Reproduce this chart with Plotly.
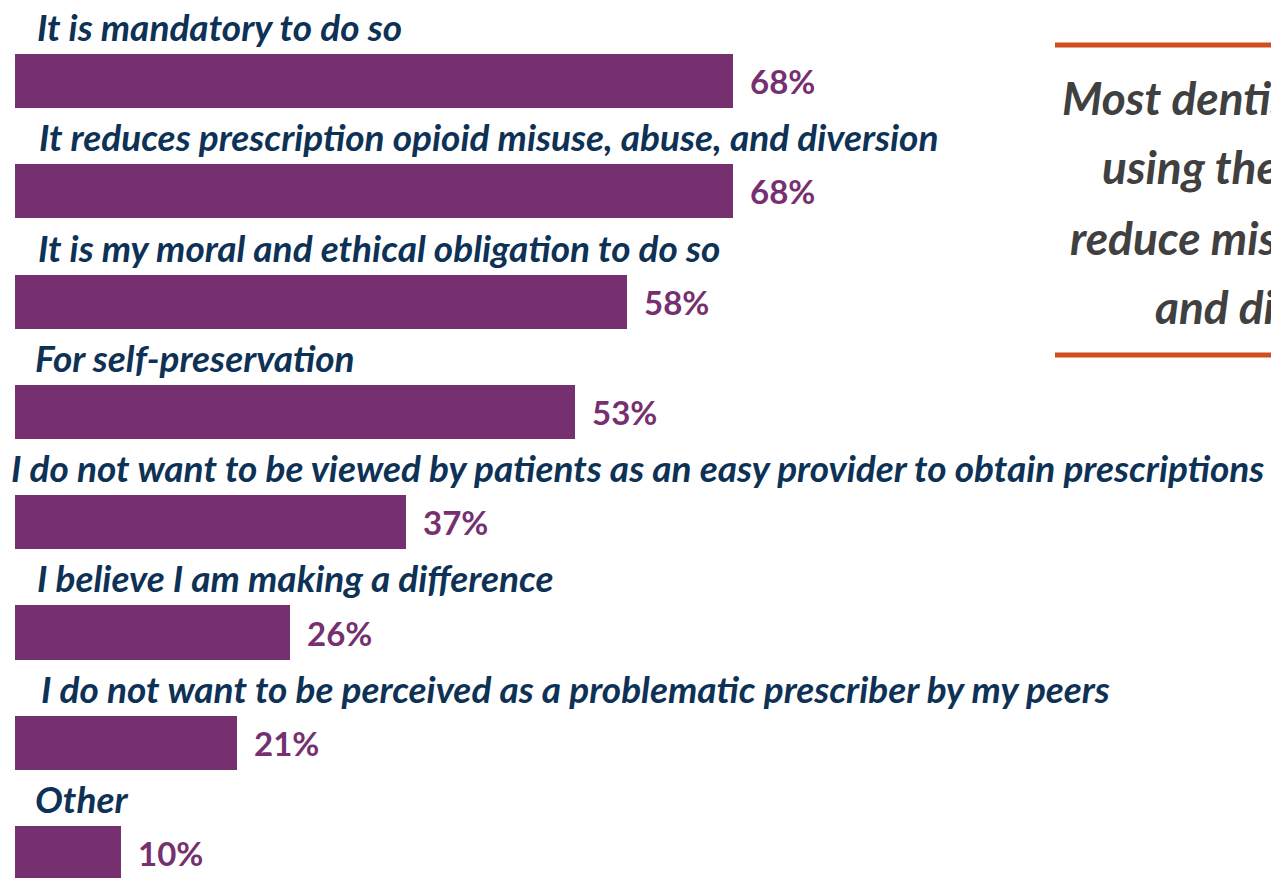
import plotly.graph_objects as go

categories = [
    "It is mandatory to do so",
    "It reduces prescription opioid misuse, abuse, and diversion",
    "It is my moral and ethical obligation to do so",
    "For self-preservation",
    "I do not want to be viewed by patients as an easy provider to obtain prescriptions",
    "I believe I am making a difference",
    "I do not want to be perceived as a problematic prescriber by my peers",
    "Other",
]
values = [68, 68, 58, 53, 37, 26, 21, 10]
value_labels = ["68%", "68%", "58%", "53%", "37%", "26%", "21%", "10%"]
callout_lines = [
    "Most dentists report",
    "using the PDMP to",
    "reduce misuse, abuse,",
    "and diversion",
]

W, H = 1271, 878
BAR = "#76306f"
NAVY = "#0e3256"
GREY = "#404040"
ORANGE = "#d24d1f"

# layout styling (pixel placement)
label_x_px = [35, 37, 36, 33, 9, 35, 39, 33]
callout_x_px = [1060, 1100, 1068, 1153]
callout_y_px = [97, 167, 237, 306]

pos = list(range(len(categories)))

fig = go.Figure()
fig.add_trace(go.Bar(
    y=pos, x=values, orientation="h", width=0.49,
    marker=dict(color=BAR, line=dict(width=0)),
    hoverinfo="skip", showlegend=False,
))

annotations = []
for i, (cat, v, lab) in enumerate(zip(categories, values, value_labels)):
    annotations.append(dict(
        x=label_x_px[i] / W, xref="paper", y=i - 0.495, yref="y",
        text=cat, showarrow=False, xanchor="left", yanchor="middle",
        font=dict(family="Lato", size=37, color=NAVY, weight="bold", style="italic"),
    ))
    annotations.append(dict(
        x=v, xref="x", y=i, yref="y", xshift=15,
        text=lab, showarrow=False, xanchor="left", yanchor="middle",
        font=dict(family="Lato", size=33, color=BAR, weight="bold"),
    ))
for line, xp, yp in zip(callout_lines, callout_x_px, callout_y_px):
    annotations.append(dict(
        x=xp / W, xref="paper", y=1 - yp / H, yref="paper",
        text=line, showarrow=False, xanchor="left", yanchor="middle",
        font=dict(family="Lato", size=46, color=GREY, weight="bold", style="italic"),
    ))

shapes = [
    dict(type="line", xref="paper", yref="paper", x0=1055 / W, x1=1.05,
         y0=1 - 45 / H, y1=1 - 45 / H, line=dict(color=ORANGE, width=5)),
    dict(type="line", xref="paper", yref="paper", x0=1055 / W, x1=1.05,
         y0=1 - 355 / H, y1=1 - 355 / H, line=dict(color=ORANGE, width=5)),
]

px_per_unit_x = (733 - 15) / 68.0
x0 = -15 / px_per_unit_x
x1 = (W - 15) / px_per_unit_x
px_per_unit_y = 110.3
y_top = -81 / px_per_unit_y
y_bot = (H - 81) / px_per_unit_y

fig.update_layout(
    width=W, height=H, autosize=False,
    margin=dict(l=0, r=0, t=0, b=0, pad=0),
    paper_bgcolor="white", plot_bgcolor="white",
    xaxis=dict(range=[x0, x1], visible=False, fixedrange=True),
    yaxis=dict(range=[y_bot, y_top], visible=False, fixedrange=True),
    annotations=annotations, shapes=shapes,
    bargap=0,
)

fig.write_html("out.html", config={"displayModeBar": False})
with open("out.html", encoding="utf-8") as f:
    html = f.read()
html = html.replace("<body>", '<body style="margin:0;overflow:hidden">', 1)
with open("out.html", "w", encoding="utf-8") as f:
    f.write(html)
